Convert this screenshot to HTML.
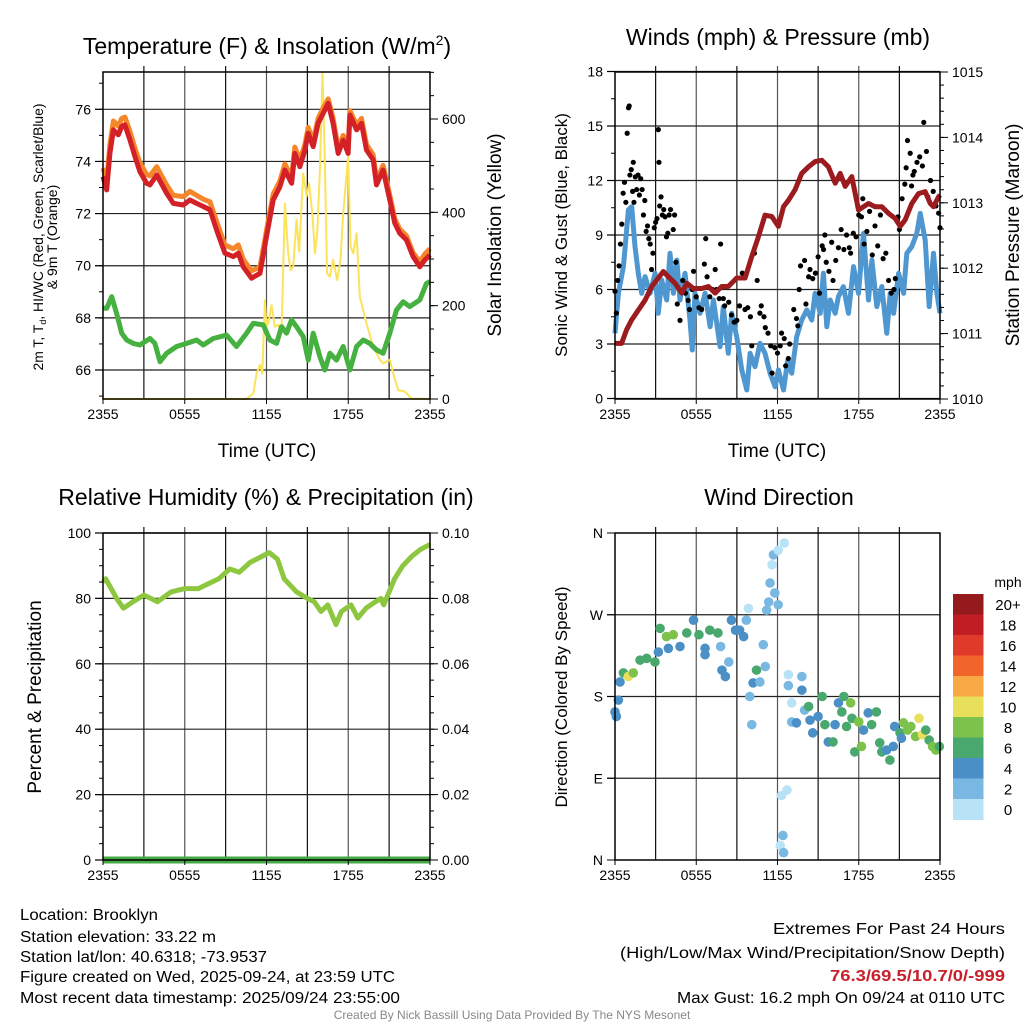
<!DOCTYPE html>
<html><head><meta charset="utf-8"><style>
html,body{margin:0;padding:0;background:#fff;}
svg{display:block;font-family:"Liberation Sans",sans-serif;}
</style></head><body>
<svg id="fig" width="1024" height="1024" viewBox="0 0 1024 1024" xmlns="http://www.w3.org/2000/svg">
<rect width="1024" height="1024" fill="#fff"/>
<g id="p1"></g>
<g id="p2"></g>
<g id="p3"></g>
<g id="p4"></g>
<text x="267" y="54" font-size="23" text-anchor="middle">Temperature (F) &amp; Insolation (W/m<tspan font-size="14" dy="-9">2</tspan><tspan dy="9">)</tspan></text>
<text x="778" y="45" font-size="23" text-anchor="middle">Winds (mph) &amp; Pressure (mb)</text>
<text x="266" y="505" font-size="23" text-anchor="middle">Relative Humidity (%) &amp; Precipitation (in)</text>
<text x="779" y="505" font-size="23" text-anchor="middle">Wind Direction</text>
<text font-size="14" text-anchor="middle" textLength="267" lengthAdjust="spacingAndGlyphs" transform="translate(43,237) rotate(-90)">2m T, T<tspan font-size="9" dy="3">d</tspan><tspan dy="-3">, HI/WC (Red, Green, Scarlet/Blue)</tspan></text>
<text font-size="14" text-anchor="middle" transform="translate(57,237) rotate(-90)">&amp; 9m T (Orange)</text>
<text font-size="19" text-anchor="middle" transform="translate(501,235) rotate(-90)">Solar Insolation (Yellow)</text>
<text x="267" y="457" font-size="19" text-anchor="middle">Time (UTC)</text>
<text x="777" y="457" font-size="19" text-anchor="middle">Time (UTC)</text>
<text font-size="17" text-anchor="middle" transform="translate(567,235) rotate(-90)">Sonic Wind &amp; Gust (Blue, Black)</text>
<text font-size="19" text-anchor="middle" transform="translate(1019,235) rotate(-90)">Station Pressure (Maroon)</text>
<text font-size="19" text-anchor="middle" transform="translate(41,697) rotate(-90)">Percent &amp; Precipitation</text>
<text font-size="17" text-anchor="middle" transform="translate(567,697) rotate(-90)">Direction (Colored By Speed)</text>
<g font-size="15.5">
<text x="20" y="920" textLength="138" lengthAdjust="spacingAndGlyphs">Location: Brooklyn</text>
<text x="20" y="942" textLength="196" lengthAdjust="spacingAndGlyphs">Station elevation: 33.22 m</text>
<text x="20" y="962" textLength="247" lengthAdjust="spacingAndGlyphs">Station lat/lon: 40.6318; -73.9537</text>
<text x="20" y="982" textLength="375" lengthAdjust="spacingAndGlyphs">Figure created on Wed, 2025-09-24, at 23:59 UTC</text>
<text x="20" y="1003" textLength="380" lengthAdjust="spacingAndGlyphs">Most recent data timestamp: 2025/09/24 23:55:00</text>
</g>
<g font-size="16" text-anchor="end">
<text x="1005" y="934" textLength="232" lengthAdjust="spacingAndGlyphs">Extremes For Past 24 Hours</text>
<text x="1005" y="958" textLength="385" lengthAdjust="spacingAndGlyphs">(High/Low/Max Wind/Precipitation/Snow Depth)</text>
<text x="1005" y="981" fill="#c8202a" font-weight="bold" textLength="175" lengthAdjust="spacingAndGlyphs">76.3/69.5/10.7/0/-999</text>
<text x="1005" y="1003" textLength="328" lengthAdjust="spacingAndGlyphs">Max Gust: 16.2 mph On 09/24 at 0110 UTC</text>
</g>
<text x="512" y="1019" font-size="12" fill="#888" text-anchor="middle">Created By Nick Bassill Using Data Provided By The NYS Mesonet</text>
</svg>
<script>
// ---------- data ----------
const xTickLabels = ["2355","0555","1155","1755","2355"];
const tempHours = [0,0.27,0.51,0.76,1.12,1.37,1.61,1.98,2.35,2.71,3.2,3.45,3.94,4.67,5.16,5.89,6.38,6.87,7.36,7.85,8.34,8.95,9.56,9.93,10.29,10.9,11.52,12.0,12.49,12.98,13.35,13.84,14.08,14.45,14.82,15.06,15.43,15.79,16.16,16.53,16.89,17.26,17.63,17.99,18.12,18.61,18.97,19.34,19.83,20.07,20.56,21.05,21.42,21.78,22.27,22.76,23.25,23.62,23.99];
const tempRed = [73.42,72.91,74.31,75.21,75.02,75.34,75.40,74.82,74.18,73.61,73.16,73.10,73.48,72.78,72.39,72.33,72.52,72.39,72.27,72.14,71.37,70.48,70.35,70.48,69.96,69.52,69.71,71.12,72.52,73.03,73.67,73.16,74.31,73.80,74.44,75.08,74.57,75.46,75.85,76.23,75.46,74.31,74.82,74.31,75.78,75.21,75.46,74.44,74.06,73.10,73.67,72.52,71.63,71.24,70.99,70.35,69.96,70.22,70.41];
const tempOrange = [73.75,73.25,74.65,75.55,75.35,75.65,75.70,75.15,74.50,73.95,73.50,73.45,73.80,73.10,72.70,72.65,72.85,72.70,72.55,72.45,71.70,70.80,70.65,70.80,70.25,69.80,69.95,71.35,72.75,73.25,73.90,73.40,74.55,74.05,74.65,75.30,74.80,75.65,76.05,76.40,75.65,74.50,75.00,74.50,75.95,75.40,75.65,74.65,74.25,73.30,73.85,72.70,71.80,71.40,71.15,70.50,70.15,70.45,70.65];
const dewHours = [0,0.27,0.64,1.0,1.37,1.74,2.22,2.71,3.45,3.81,4.18,4.67,5.4,6.14,6.87,7.36,8.09,9.07,9.8,10.54,11.03,11.76,12.25,12.74,13.1,13.47,13.84,14.2,14.69,15.06,15.43,15.92,16.28,16.65,17.14,17.63,18.12,18.61,19.1,19.58,20.07,20.56,21.05,21.54,22.03,22.52,23.25,23.74,23.99];
const dewPoint = [68.37,68.37,68.81,68.17,67.41,67.15,67.02,66.96,67.21,67.02,66.32,66.64,66.90,67.02,67.15,66.96,67.21,67.34,66.90,67.41,67.79,67.73,67.15,67.02,67.66,67.41,67.92,67.66,67.28,66.38,67.41,66.51,66.0,66.64,66.38,66.90,66.0,66.90,67.15,67.02,66.77,66.64,67.41,68.30,68.62,68.43,68.69,69.32,69.39];
const solarHours = [0,10.54,11.03,11.27,11.52,11.69,11.88,12.0,12.13,12.37,12.62,12.86,13.1,13.35,13.59,13.77,13.96,14.2,14.4,14.69,14.94,15.13,15.38,15.55,15.72,15.92,16.11,16.28,16.45,16.65,16.89,17.19,17.43,17.63,17.99,18.17,18.36,18.61,18.85,19.34,19.83,20.32,20.56,21.05,21.3,21.66,22.15,22.64,23.99];
const solarValues = [0,0,12,55,73,55,212,155,162,201,155,159,141,419,312,276,284,384,316,484,434,462,391,312,355,491,698,512,269,262,298,255,298,398,519,326,312,355,219,162,112,84,76,84,55,19,16,1,0];
const tempTicks = [66,68,70,72,74,76];
const solarTicks = [0,200,400,600];

const windHours = [0,0.25,0.62,0.99,1.23,1.48,1.72,1.97,2.22,2.59,2.96,3.2,3.45,3.82,4.06,4.31,4.56,4.8,5.17,5.54,5.71,5.91,6.28,6.65,7.02,7.27,7.76,8.0,8.37,8.62,8.99,9.36,9.73,9.98,10.34,10.71,11.08,11.45,11.82,12.07,12.44,12.76,13.05,13.42,13.79,14.16,14.53,14.78,15.15,15.39,15.64,15.89,16.26,16.5,16.87,17.24,17.61,17.98,18.35,18.72,18.97,19.33,19.7,20.07,20.32,20.57,20.94,21.31,21.55,21.92,22.29,22.54,22.91,23.2,23.52,23.77,24.0];
const windSpeed = [3.59,5.79,7.26,10.38,10.56,8.36,6.89,5.79,6.71,5.79,6.89,4.69,6.52,5.42,7.99,5.79,7.62,5.42,6.89,4.32,2.67,5.79,4.69,5.79,3.95,5.42,2.85,5.06,2.49,4.69,3.40,1.57,0.47,2.49,1.75,3.04,2.49,1.39,0.65,1.57,0.47,2.12,1.39,3.40,4.32,4.87,4.32,5.79,4.69,6.89,3.95,5.42,4.69,5.61,6.16,4.69,7.26,5.79,9.09,5.42,7.62,5.06,6.16,3.59,5.79,4.69,6.89,5.79,7.99,8.36,9.09,10.19,8.72,5.06,7.99,5.79,4.69];
const pressHours = [0,0.49,0.86,1.23,1.72,2.22,2.71,3.2,3.57,3.94,4.43,4.93,5.3,5.79,6.4,6.9,7.39,7.88,8.37,8.99,9.61,10.1,10.59,11.08,11.58,12.07,12.44,12.81,13.3,13.79,14.29,14.78,15.27,15.76,16.26,16.63,17.0,17.49,17.98,18.35,18.72,19.21,19.7,20.2,20.69,21.06,21.43,21.92,22.41,22.91,23.28,23.52,23.89,24.0];
const pressure = [1010.85,1010.85,1011.06,1011.21,1011.36,1011.51,1011.72,1011.85,1011.95,1011.87,1011.77,1011.62,1011.77,1011.69,1011.69,1011.72,1011.62,1011.72,1011.72,1011.85,1011.85,1012.18,1012.48,1012.81,1012.79,1012.64,1012.94,1013.04,1013.20,1013.45,1013.55,1013.63,1013.65,1013.55,1013.30,1013.45,1013.25,1013.40,1012.89,1012.94,1012.99,1012.94,1012.94,1012.84,1012.76,1012.64,1012.74,1012.99,1013.14,1013.17,1012.99,1012.94,1013.09,1013.12];
const gustHours = [0,0.1,0.2,0.3,0.4,0.5,0.6,0.7,0.8,0.9,1.0,1.05,1.1,1.2,1.3,1.35,1.4,1.5,1.6,1.7,1.8,1.9,2.0,2.1,2.2,2.3,2.4,2.5,2.6,2.7,2.8,2.9,3.0,3.1,3.2,3.25,3.3,3.4,3.5,3.6,3.7,3.8,3.9,4.0,4.1,4.3,4.4,4.5,4.6,4.8,5.0,5.2,5.4,5.5,5.7,5.8,6.0,6.2,6.4,6.6,6.7,6.8,7.0,7.2,7.4,7.5,7.7,7.8,8.0,8.1,8.4,8.6,8.8,9.0,9.2,9.4,9.6,9.8,10.0,10.1,10.3,10.5,10.7,10.8,11.0,11.1,11.3,11.5,11.6,11.8,12.0,12.2,12.3,12.5,12.6,12.8,12.9,13.2,13.4,13.5,13.6,13.7,14.0,14.1,14.3,14.4,14.6,14.8,15.0,15.1,15.3,15.4,15.5,15.6,15.8,16.0,16.1,16.3,16.5,16.7,16.9,17.1,17.3,17.4,17.6,17.8,18.0,18.2,18.3,18.4,18.6,18.8,19.0,19.2,19.4,19.6,19.8,20.0,20.2,20.4,20.6,20.7,20.9,21.0,21.2,21.4,21.5,21.6,21.8,21.9,22.0,22.1,22.3,22.5,22.7,22.8,23.0,23.1,23.3,23.5,23.7,23.9,24.0];
const gustSpeed = [5.9,4.7,6.5,7.3,8.5,9.6,11.3,11.9,10.8,14.6,16.0,16.1,12.3,12.6,11.4,13.0,10.8,12.2,11.5,12.3,11.2,12.1,11.5,10.1,10.9,9.2,9.5,8.8,8.5,7.1,8.0,9.4,9.7,9.9,14.8,13.0,10.6,11.1,10.1,10.4,10.0,8.9,9.1,10.1,10.4,9.3,10.1,7.5,5.2,4.3,6.5,5.8,5.4,4.9,6.0,7.0,5.6,5.0,4.9,7.4,8.8,6.7,5.6,6.0,7.1,6.0,5.5,8.5,5.5,5.1,5.3,4.6,4.2,4.3,5.1,6.9,4.9,5.0,4.5,2.9,8.0,6.5,4.7,5.1,4.5,3.9,3.6,2.9,1.4,2.8,2.5,2.9,3.6,3.3,1.8,2.2,3.0,4.9,4.4,4.0,6.0,7.3,7.6,5.2,6.7,7.1,6.6,6.9,7.8,5.8,8.4,8.2,9.0,7.5,7.0,8.6,6.5,7.6,8.3,9.3,8.2,9.0,8.3,8.0,9.1,8.9,10.1,10.0,11.0,8.5,9.2,10.3,7.9,9.5,8.4,10.1,7.7,8.0,6.5,5.8,6.0,6.6,10.0,9.3,11.0,11.8,12.7,14.2,13.5,11.7,12.3,12.5,13.0,13.3,12.8,15.2,13.6,11.1,12.0,11.4,10.6,10.2,9.4];
const windTicks = [0,3,6,9,12,15,18];
const pressTicks = [1010,1011,1012,1013,1014,1015];

const rhHours = [0,0.2,1.0,1.5,2.2,3.0,3.5,4.0,5.0,6.0,7.0,7.5,8.5,9.3,10.0,10.8,12.2,12.8,13.3,14.2,15.0,15.5,16.0,16.5,17.1,17.5,18.2,18.7,19.3,20.0,20.4,20.6,21.4,22.0,22.7,23.3,24.0];
const rhValues = [85,86,80,77,79,81,80,79,82,83,83,84,86,89,88,91,94,92,86,82,80,79,76,78,72,76,78,74,77,79,80,78,86,90,93,95,96.5];
const precipHours = [0,24];
const precipValues = [0,0];
const rhTicks = [0,20,40,60,80,100];
const precipTicks = ["0.00","0.02","0.04","0.06","0.08","0.10"];

const dirHours = [0,0.1,0.25,0.37,0.62,0.98,1.35,1.85,2.34,2.95,3.2,3.33,3.8,3.94,4.3,4.8,5.3,5.8,6.2,6.65,6.65,7.0,7.6,7.8,7.9,8.15,8.4,8.6,8.9,9.2,9.5,9.7,9.85,9.95,10.1,10.2,10.45,10.7,10.95,11.1,11.2,11.35,11.45,11.6,11.7,11.8,12.05,12.05,12.5,12.3,12.7,12.4,12.2,12.45,12.8,12.8,13.05,13.05,13.4,13.8,13.8,14.0,14.3,14.4,14.6,15.0,15.3,15.5,15.75,16.1,16.25,16.5,16.9,16.75,17.1,17.4,17.5,17.7,18.0,18.2,18.35,18.7,18.95,19.3,19.55,19.7,20.05,20.3,20.55,20.65,21.05,21.15,21.3,21.6,21.85,22.2,22.45,22.7,22.95,23.2,23.45,23.7,23.95];
const dirDegrees = [163,158,176,196,206,202,206,220,222,218,229,255,246,233,248,235,250,264,248,233,226,253,250,235,209,202,218,264,253,253,246,264,277,180,149,195,209,196,237,213,275,284,305,325,336,294,341,281,349,71,77,27,16,8,204,192,173,152,151,202,187,165,169,154,140,158,180,149,130,130,149,173,180,163,147,173,156,119,152,125,143,162,149,163,129,119,121,110,125,147,140,134,151,143,147,136,156,138,143,132,125,121,125];
const dirSpeed = [4,4,4,4,6,10,8,6,6,6,4,6,8,4,8,4,6,4,6,4,4,6,6,2,4,4,2,4,4,4,4,2,0,2,2,4,6,2,2,2,2,2,2,0,2,2,0,2,0,0,0,2,0,2,0,2,0,2,4,2,4,2,6,4,4,4,6,6,4,6,4,4,6,6,6,8,6,6,8,8,4,4,6,6,6,6,4,6,4,4,6,4,8,8,8,8,10,10,6,6,8,8,6];
const dirTickLabels = ["N","E","S","W","N"];
const speedBins = ["0","2","4","6","8","10","12","14","16","18","20+"];
const speedColors = ["#b8e2f6","#7ab8e4","#4a8fc6","#49a86e","#7dc24a","#e8e05a","#f8a844","#f2652a","#e03a2a","#c01d25","#951a1d"];

// ---------- helpers ----------
const NS = "http://www.w3.org/2000/svg";
function mk(parent, tag, attrs){
  const e = document.createElementNS(NS, tag);
  for (const k in attrs) e.setAttribute(k, attrs[k]);
  parent.appendChild(e);
  return e;
}
function lin(d0,d1,r0,r1){ return v => r0 + (v-d0)/(d1-d0)*(r1-r0); }
function pathD(xs, ys, sx, sy){
  return xs.map((h,i)=>(i?"L":"M")+sx(h).toFixed(1)+","+sy(ys[i]).toFixed(1)).join("");
}
function frame(g, L, T, R, B){
  const sx = lin(0,24,L,R);
  for (let h=3; h<24; h+=3){
    const gl = mk(g,"line",{x1:sx(h),x2:sx(h),y1:T-6,y2:B,stroke:(h%6===0?"#555":"#111"),"stroke-width":1.2});
    
    
  }
}
function xAxis(g, L, R, B){
  const sx = lin(0,24,L,R);
  xTickLabels.forEach((lab,i)=>{
    const h = i*6;
    mk(g,"line",{x1:sx(h),x2:sx(h),y1:B,y2:B+5,stroke:"#000","stroke-width":1});
    const t = mk(g,"text",{x:sx(h),y:B+20,"font-size":14,"text-anchor":"middle"});
    t.textContent = lab;
    
    
  });
}
function hGrid(g, L, R, y){
  const l = mk(g,"line",{x1:L-8,x2:R,y1:y,y2:y,stroke:"#222","stroke-width":1.2});
  
  
}
function leftTicks(g, L, ticks, sy, labels, minorStep, dMin, dMax){
  ticks.forEach((v,i)=>{
    const y = sy(v);
    mk(g,"line",{x1:L-8,x2:L,y1:y,y2:y,stroke:"#000","stroke-width":1});
    const t = mk(g,"text",{x:L-12,y:y+5,"font-size":14,"text-anchor":"end"});
    t.textContent = labels ? labels[i] : v;
    
    
  });
  if (minorStep) for (let v=dMin; v<=dMax+1e-9; v+=minorStep){
    mk(g,"line",{x1:L-4,x2:L,y1:sy(v),y2:sy(v),stroke:"#000","stroke-width":1});
  }
}
function rightTicks(g, R, ticks, sy, labels, minorStep, dMin, dMax){
  ticks.forEach((v,i)=>{
    const y = sy(v);
    mk(g,"line",{x1:R,x2:R+8,y1:y,y2:y,stroke:"#000","stroke-width":1});
    const t = mk(g,"text",{x:R+12,y:y+5,"font-size":14,"text-anchor":"start"});
    t.textContent = labels ? labels[i] : v;
    
    
  });
  if (minorStep) for (let v=dMin; v<=dMax+1e-9; v+=minorStep){
    mk(g,"line",{x1:R,x2:R+4,y1:sy(v),y2:sy(v),stroke:"#000","stroke-width":1});
  }
}
function border(g,L,T,R,B){
  const r = mk(g,"rect",{x:L,y:T,width:R-L,height:B-T,fill:"none",stroke:"#000","stroke-width":1.5});
  
  
}

// ---------- panel 1 ----------
(function(){
  const g = document.getElementById("p1");
  const L=103,T=72,R=430,B=399;
  const sx = lin(0,24,L,R);
  const sy = lin(76,66,109.3,370);
  const sSol = lin(0,600,399,119);
  frame(g,L,T,R,B);
  tempTicks.forEach(v=>hGrid(g,L,R,sy(v)));
  const y = mk(g,"path",{d:pathD(solarHours,solarValues,sx,sSol),fill:"none",stroke:"#fbe35a","stroke-width":2,"stroke-linejoin":"round"});
  
  
  const o = mk(g,"path",{d:pathD(tempHours,tempOrange,sx,sy),fill:"none",stroke:"#f5862a","stroke-width":5,"stroke-linejoin":"round"});
  
  
  const r = mk(g,"path",{d:pathD(tempHours,tempRed,sx,sy),fill:"none",stroke:"#d42027","stroke-width":5,"stroke-linejoin":"round"});
  
  
  const d = mk(g,"path",{d:pathD(dewHours,dewPoint,sx,sy),fill:"none",stroke:"#46b040","stroke-width":5,"stroke-linejoin":"round"});
  
  
  border(g,L,T,R,B);
  leftTicks(g,L,tempTicks,sy,null,1,65,77);
  rightTicks(g,R,solarTicks,sSol,null,50,0,700);
  xAxis(g,L,R,B);
})();

// ---------- panel 2 ----------
(function(){
  const g = document.getElementById("p2");
  const L=615,T=72,R=940,B=399;
  const sx = lin(0,24,L,R);
  const sy = lin(0,18,398.5,71.5);
  const sp = lin(1010,1015,399,72);
  frame(g,L,T,R,B);
  windTicks.forEach(v=>hGrid(g,L,R,sy(v)));
  const w = mk(g,"path",{d:pathD(windHours,windSpeed,sx,sy),fill:"none",stroke:"#4f97d1","stroke-width":5,"stroke-linejoin":"round"});
  
  
  gustHours.forEach((h,i)=>{
    const c = mk(g,"circle",{cx:sx(h),cy:sy(gustSpeed[i]),r:2.6,fill:"#000"});
    
    
  });
  const p = mk(g,"path",{d:pathD(pressHours,pressure,sx,sp),fill:"none",stroke:"#9b1b1e","stroke-width":5,"stroke-linejoin":"round"});
  
  
  border(g,L,T,R,B);
  leftTicks(g,L,windTicks,sy,null,1.5,0,18);
  rightTicks(g,R,pressTicks,sp,null,0.2,1010,1015);
  xAxis(g,L,R,B);
})();

// ---------- panel 3 ----------
(function(){
  const g = document.getElementById("p3");
  const L=103,T=533,R=430,B=860;
  const sx = lin(0,24,L,R);
  const sy = lin(0,100,860,533);
  const sPr = lin(0,0.1,860,533);
  frame(g,L,T,R,B);
  rhTicks.forEach(v=>hGrid(g,L,R,sy(v)));
  const rh = mk(g,"path",{d:pathD(rhHours,rhValues,sx,sy),fill:"none",stroke:"#8dc63f","stroke-width":5,"stroke-linejoin":"round"});
  
  
  const pr = mk(g,"path",{d:pathD(precipHours,precipValues,sx,sPr),fill:"none",stroke:"#45a845","stroke-width":7});
  
  
  border(g,L,T,R,B);
  leftTicks(g,L,rhTicks,sy,null,5,0,100);
  rightTicks(g,R,[0,0.02,0.04,0.06,0.08,0.1],sPr,precipTicks,0.005,0,0.1);
  xAxis(g,L,R,B);
})();

// ---------- panel 4 ----------
(function(){
  const g = document.getElementById("p4");
  const L=615,T=533,R=940,B=860;
  const sx = lin(0,24,L,R);
  const sy = lin(0,360,860,533);
  frame(g,L,T,R,B);
  [90,180,270].forEach(v=>hGrid(g,L,R,sy(v)));
  dirHours.forEach((h,i)=>{
    const bin = Math.min(10, Math.floor(dirSpeed[i]/2));
    const c = mk(g,"circle",{cx:sx(h),cy:sy(dirDegrees[i]),r:4.8,fill:speedColors[bin]});
    
    
  });
  border(g,L,T,R,B);
  leftTicks(g,L,[0,90,180,270,360],sy,dirTickLabels,0,0,0);
  xAxis(g,L,R,B);
  const cb = mk(g,"g",{});
  
  
  const top=594, h=20.5;
  const unit = mk(cb,"text",{x:1008,y:587,"font-size":14,"text-anchor":"middle"});
  unit.textContent = "mph";
  
  
  speedBins.forEach((lab,i)=>{
    const k = speedBins.length-1-i;
    const y = top + i*h;
    const r = mk(cb,"rect",{x:953,y:y,width:30.5,height:h+0.5,fill:speedColors[k]});
    
    
    const t = mk(cb,"text",{x:1008,y:y+h/2+5.5,"font-size":15,"text-anchor":"middle"});
    t.textContent = speedBins[k];
    
    
  });
})();
</script>
</body></html>
